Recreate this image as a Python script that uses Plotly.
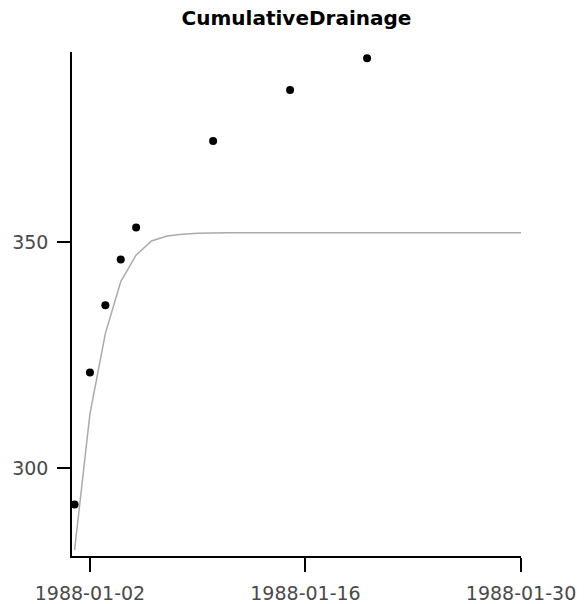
import plotly.graph_objects as go
import pandas as pd

# Observed points
obs_dates = ["1988-01-01", "1988-01-02", "1988-01-03", "1988-01-04", "1988-01-05",
             "1988-01-10", "1988-01-15", "1988-01-20"]
obs_values = [291.9, 321.1, 336.0, 346.1, 353.2, 372.3, 383.6, 390.6]

# Simulated daily line
sim_dates = pd.date_range("1988-01-01", "1988-01-30", freq="D").strftime("%Y-%m-%d").tolist()
sim_values = [281.8, 312.0, 329.7, 341.2, 347.1, 350.2, 351.3, 351.7, 351.9, 352.0,
              352.0, 352.0, 352.0, 352.0, 352.0, 352.0, 352.0, 352.0, 352.0, 352.0,
              352.0, 352.0, 352.0, 352.0, 352.0, 352.0, 352.0, 352.0, 352.0, 352.0]

x_ticks = ["1988-01-02", "1988-01-16", "1988-01-30"]
y_ticks = [300, 350]

font_family = "DejaVu Sans"

fig = go.Figure()
fig.add_trace(go.Scatter(x=sim_dates, y=sim_values, mode="lines",
                         line=dict(color="#aaaaaa", width=1.5), showlegend=False))
fig.add_trace(go.Scatter(x=obs_dates, y=obs_values, mode="markers",
                         marker=dict(color="black", size=8), showlegend=False))

fig.update_layout(
    width=584, height=604,
    paper_bgcolor="white", plot_bgcolor="white",
    margin=dict(l=72, r=63, t=52, b=48, autoexpand=False),
    title=dict(text="<b>CumulativeDrainage</b>", xref="paper", x=0.5, xanchor="center",
               y=1 - 18 / 604, yanchor="middle",
               font=dict(family=font_family, size=20, color="black")),
    xaxis=dict(
        type="date", automargin=False,
        range=["1987-12-31 20:00", "1988-01-30"],
        tickvals=x_ticks, ticktext=x_ticks,
        showgrid=False, zeroline=False,
        showline=True, linecolor="black", linewidth=1.5,
        ticks="outside", ticklen=14, tickwidth=1.5, tickcolor="black",
        ticklabelstandoff=5,
        tickfont=dict(family=font_family, size=19, color="#4a4a4a"),
    ),
    yaxis=dict(
        range=[280.5, 392], automargin=False,
        tickvals=y_ticks,
        showgrid=False, zeroline=False,
        showline=True, linecolor="black", linewidth=1.5,
        ticks="outside", ticklen=13, tickwidth=1.5, tickcolor="black",
        ticklabelstandoff=5,
        tickfont=dict(family=font_family, size=19, color="#4a4a4a"),
    ),
)

fig.write_html("out.html")
